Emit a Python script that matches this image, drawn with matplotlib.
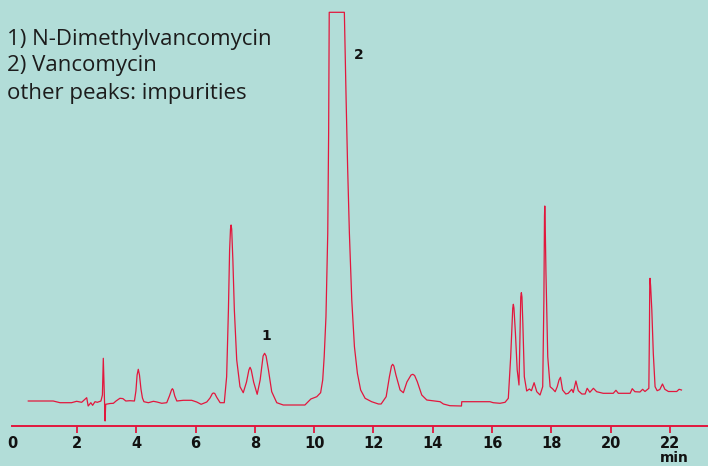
import matplotlib
matplotlib.use("Agg")
import matplotlib.pyplot as plt
import matplotlib.transforms as mtransforms
from matplotlib import font_manager

# ---- data (retention time in min, detector signal, arbitrary units) ----
time_min = [
    0.36, 1.20, 1.43, 1.82, 1.99, 2.16, 2.33, 2.38, 2.47, 2.53, 2.61, 2.69, 2.81,
    2.86, 2.89, 2.93, 2.95, 2.97, 3.12, 3.23, 3.32, 3.45, 3.55, 3.65, 3.79, 3.94,
    3.99, 4.03, 4.07, 4.11, 4.16, 4.21, 4.26, 4.41, 4.58, 4.70, 4.86, 5.03, 5.12,
    5.19, 5.22, 5.25, 5.30,
    5.37, 5.59, 5.87, 6.04, 6.19, 6.38, 6.49, 6.57, 6.61, 6.65, 6.72, 6.83, 6.97,
    7.05, 7.11, 7.15, 7.18, 7.20, 7.22, 7.26, 7.31, 7.39, 7.50, 7.61, 7.72, 7.80,
    7.84, 7.88, 7.96, 8.08, 8.18, 8.28, 8.33, 8.38, 8.46, 8.57, 8.74, 8.96, 9.69,
    9.89, 10.09, 10.22, 10.29, 10.34, 10.40, 10.46, 10.49, 10.51, 11.02, 11.08,
    11.13, 11.19, 11.27, 11.36, 11.46, 11.57, 11.72, 11.94, 12.17, 12.26, 12.43,
    12.54, 12.61, 12.65, 12.69, 12.76, 12.90, 13.01, 13.13, 13.27, 13.33, 13.39,
    13.48, 13.63, 13.80, 14.08, 14.25, 14.36, 14.58, 14.97, 14.98, 15.93, 16.04,
    16.27, 16.44, 16.55, 16.63, 16.70, 16.72, 16.74, 16.79, 16.85, 16.91, 16.94,
    16.97, 16.99, 17.01, 17.04, 17.09, 17.17, 17.26, 17.33, 17.42, 17.51, 17.62,
    17.71, 17.75, 17.77, 17.78, 17.79, 17.82, 17.88, 17.96, 18.05, 18.13, 18.20,
    18.26, 18.31, 18.38, 18.49, 18.57, 18.69, 18.74, 18.83, 18.91, 19.03, 19.14,
    19.21, 19.30, 19.42, 19.53, 19.75, 20.09, 20.18, 20.26, 20.66, 20.73, 20.82,
    20.99, 21.08, 21.16, 21.22, 21.29, 21.31, 21.32, 21.33, 21.35, 21.39, 21.44,
    21.50, 21.57, 21.66, 21.75, 21.83, 21.95, 22.23, 22.31, 22.39,
]
signal = [
    0, 0, -1.7, -1.7, -0.3, -1.3, 3.3, -5, -1.7, -4.3, -0.7, -1.3, 0,
    6, 42.7, 1, -20, -3.3, -2.5, -2.3, 0, 2.7, 2.4, 0, 0.3, 0,
    10, 26, 31.7, 26, 12, 3, -0.7, -1.7, -0.3, -1, -2.3, -1.7, 5,
    11, 12.3, 11, 5,
    0, 0.7, 0.7, -1, -3.3, -1, 3, 7.5, 8, 7.5, 3.5, -1.7, -1.7,
    24.3, 91, 151, 172, 176, 172, 141, 91, 41, 14.3, 8.3, 19, 31,
    33.7, 31, 19, 6.7, 21, 45, 47.7, 45, 31, 9.3, -1.7, -4, -4,
    2, 4.3, 8.3, 21, 44.3, 84.3, 167.7, 268, 388.7, 388.7, 301,
    234.3, 167.7, 101, 54.3, 27.7, 11, 2.7, -0.7, -3, -3, 4.3,
    24.3, 35, 36.7, 35, 26, 11, 8.3, 19, 26, 26.7, 25.5,
    19.3, 6, 1, 0, -0.7, -3, -4.7, -5, -0.7, -0.7, -1.7,
    -2.3, -1.3, 2.7, 44.3, 93, 96.7, 93, 67.7, 31, 16, 61,
    104, 108.3, 104, 77.7, 24.3, 10, 12, 10.3, 18.3, 9.3, 6,
    14.3, 101, 185, 195, 185, 127.7, 44.3, 14.3, 12, 9.3, 14.3,
    21, 23.7, 11, 7, 7.7, 11.7, 8.5, 20, 10.3, 7, 7,
    12.7, 8.7, 12.7, 9.3, 7.7, 7.7, 10.7, 7.7, 7.7, 12.3, 9.3,
    9, 11.7, 9.5, 11, 12.7, 71, 115, 122.7, 115, 91, 47.7,
    14.3, 10.3, 11.5, 17, 11.7, 9.5, 9.5, 11.7, 11,
]
tick_values = [0, 2, 4, 6, 8, 10, 12, 14, 16, 18, 20, 22]
tick_labels = [str(v) for v in tick_values]
legend_lines = ["1) N-Dimethylvancomycin", "2) Vancomycin", "other peaks: impurities"]
peak_labels = ["1", "2"]
peak_label_times = [8.40, 11.52]
peak_label_signal = [65, 346]
x_unit = "min"

# ---- style ----
BG = "#b2ddd8"
RED = "#e2173d"
installed = {f.name for f in font_manager.fontManager.ttflist}
narrow = "Liberation Sans Narrow" if "Liberation Sans Narrow" in installed else "DejaVu Sans"
legend_font = "Open Sans" if "Open Sans" in installed else "DejaVu Sans"

fig = plt.figure(figsize=(7.08, 4.66), dpi=100)
fig.patch.set_facecolor(BG)
ax = fig.add_axes([0, 0, 1, 1])
ax.set_facecolor(BG)

ax.plot(time_min, signal, color=RED, lw=0.9, solid_joinstyle="round")

ax.set_xlim(-0.594, 23.285)
ax.set_ylim(-65, 401)

for s in ["top", "right", "left"]:
    ax.spines[s].set_visible(False)
ax.spines["bottom"].set_position(("data", -25))
ax.spines["bottom"].set_color(RED)
ax.spines["bottom"].set_linewidth(1.4)
ax.spines["bottom"].set_bounds(-0.19, 23.285)
ax.set_yticks([])
ax.set_xticks(tick_values)
ax.set_xticklabels(tick_labels)
ax.tick_params(axis="x", direction="out", length=5, width=1.3, color=RED, pad=2,
               labelsize=10.5)
for lab in ax.get_xticklabels():
    lab.set_fontfamily(narrow)
    lab.set_fontweight("bold")
    lab.set_color("#111111")
# first tick ("0") has no mark and its label sits at the start of the axis line
first = ax.xaxis.get_major_ticks()[0]
first.tick1line.set_visible(False)
offset = mtransforms.ScaledTranslation(-5.6 / 100, 0, fig.dpi_scale_trans)
first.label1.set_transform(first.label1.get_transform() + offset)

ax.text(674 / 708, 1 - 458 / 466, x_unit, transform=ax.transAxes, ha="center",
        va="center", fontsize=10, fontweight="bold", family=narrow, color="#111111")

for lbl, t, s in zip(peak_labels, peak_label_times, peak_label_signal):
    ax.text(t, s, lbl, ha="center", va="center", fontsize=10, fontweight="bold",
            family="DejaVu Sans", color="#111111")

for i, line in enumerate(legend_lines):
    ax.text(7 / 708, 1 - (39 + 27 * i) / 466, line, transform=ax.transAxes,
            ha="left", va="center", fontsize=16, family=legend_font, color="#1c1c1c")

fig.savefig("out.png", dpi=100, facecolor=BG)
